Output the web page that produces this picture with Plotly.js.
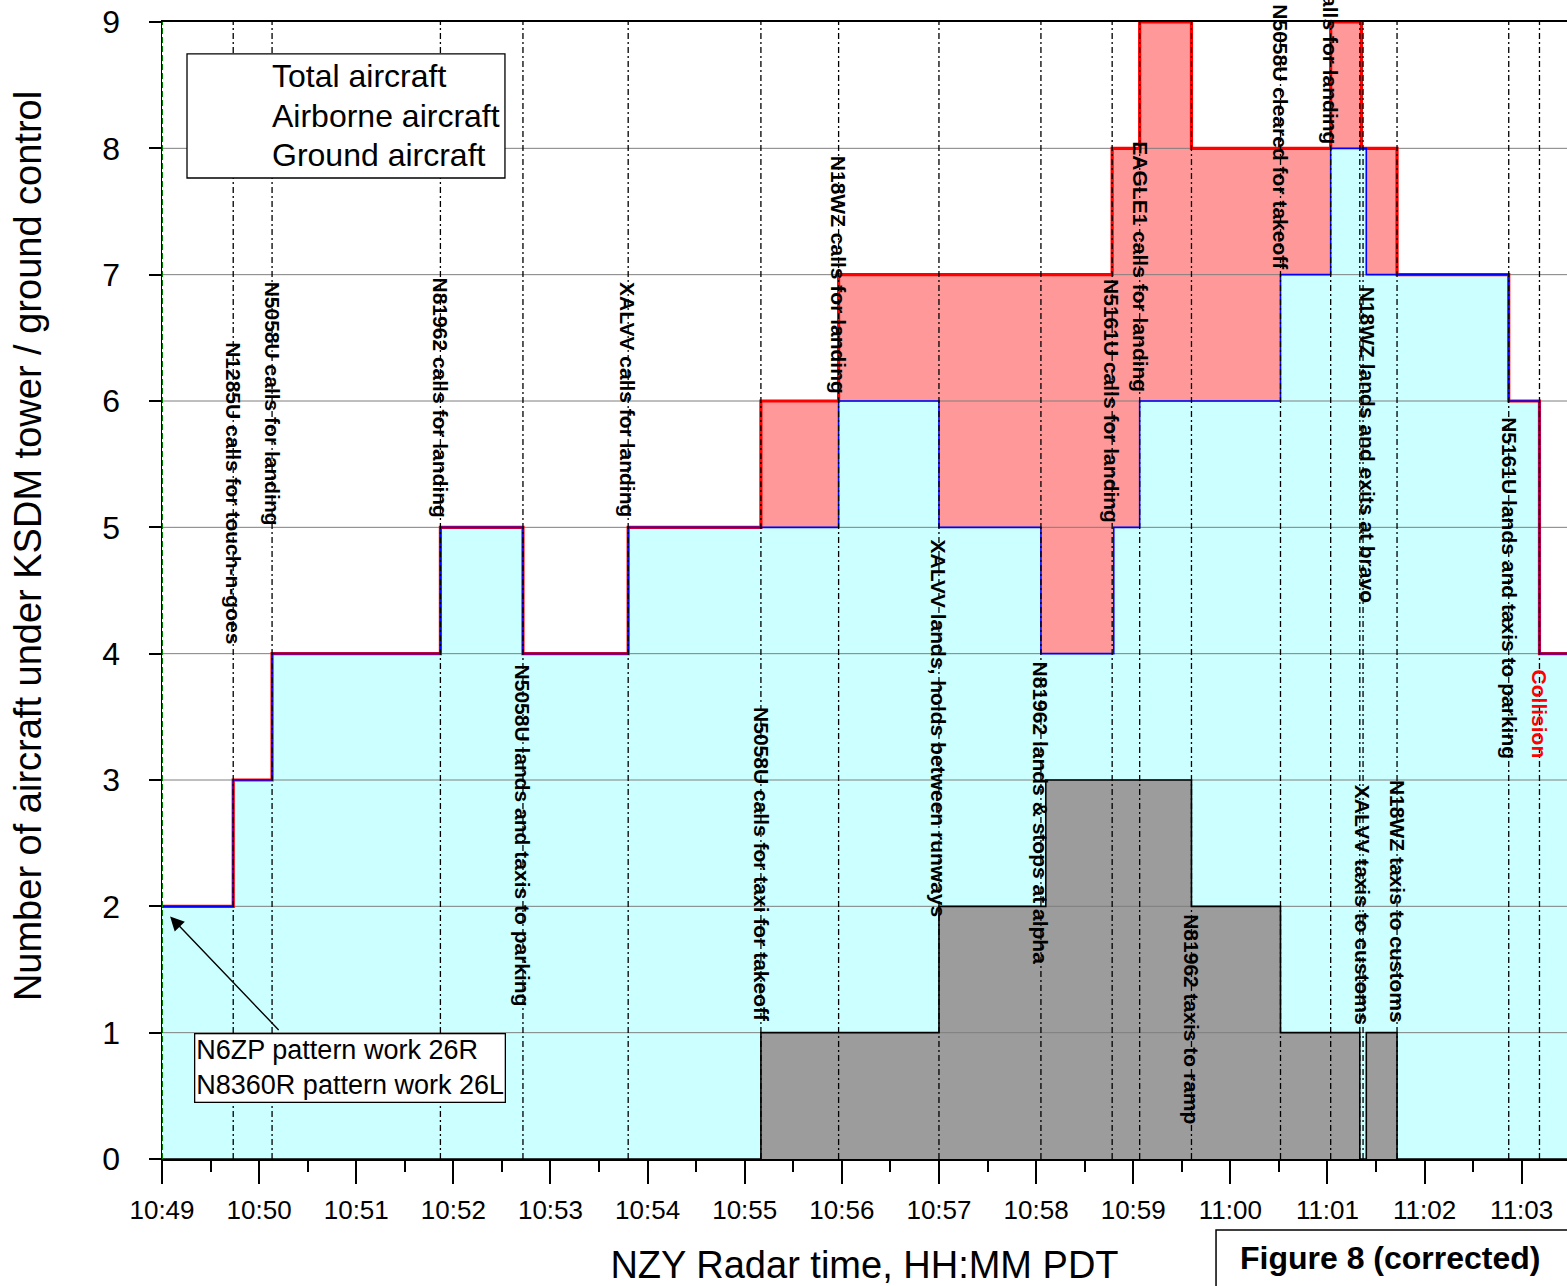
<!DOCTYPE html>
<html><head><meta charset="utf-8">
<script src="https://cdn.plot.ly/plotly-3.0.1.min.js"></script>
<style>html,body{margin:0;padding:0;background:#fff;}#chart{width:1567px;height:1286px;}</style>
</head><body><div id="chart"></div>
<script>
const DAY = '2015-08-16 ';
const seriesNames = ['Total aircraft', 'Airborne aircraft', 'Ground aircraft'];
const totalTimes = ['10:49:00','10:49:44','10:50:08','10:51:52','10:52:43','10:53:48','10:55:10','10:55:58','10:58:47','10:59:04','10:59:36','11:01:02','11:01:21','11:01:43','11:02:52','11:03:11','11:03:28'];
const totalCounts = [2,3,4,5,4,5,6,7,8,9,8,9,8,7,6,4,4];
const airborneTimes = ['10:49:00','10:49:44','10:50:08','10:51:52','10:52:43','10:53:48','10:55:58','10:57:00','10:58:03','10:58:48','10:59:04','11:00:31','11:01:02','11:01:24','11:02:52','11:03:11','11:03:28'];
const airborneCounts = [2,3,4,5,4,5,6,5,4,5,6,7,8,7,6,4,4];
const groundTimes = ['10:49:00','10:55:10','10:57:00','10:58:06','10:59:36','11:00:31','11:01:20','11:01:24','11:01:43','11:03:28'];
const groundCounts = [0,1,2,3,2,1,0,1,0,0];
const eventTimes = ['10:49:44','10:50:08','10:51:52','10:52:43','10:53:48','10:55:10','10:55:58','10:57:00','10:58:03','10:58:47','10:59:04','10:59:36','11:00:31','11:01:02','11:01:20','11:01:22','11:01:43','11:02:52','11:03:11'];
const eventLabels = [
 'N1285U calls for touch-n-goes',
 'N5058U calls for landing',
 'N81962 calls for landing',
 'N5058U lands and taxis to parking',
 'XALVV calls for landing',
 'N5058U calls for taxi for takeoff',
 'N18WZ calls for landing',
 'XALVV lands, holds between runways',
 'N81962 lands & stops at alpha',
 'N5161U calls for landing',
 'EAGLE1 calls for landing',
 'N81962 taxis to ramp',
 'N5058U cleared for takeoff',
 'calls for landing',
 'XALVV taxis to customs',
 'N18WZ lands and exits at bravo',
 'N18WZ taxis to customs',
 'N5161U lands and taxis to parking',
 'Collision'
];
const noteLines = ['N6ZP pattern work 26R', 'N8360R pattern work 26L'];
const figureLabel = 'Figure 8 (corrected)';
const xTitle = 'NZY Radar time, HH:MM PDT';
const yTitle = 'Number of aircraft under KSDM tower / ground control';
const yTicks = [0,1,2,3,4,5,6,7,8,9];

// layout-only placement of the event labels (top of rotated text, in y units)
const labelTop = [6.48,6.96,6.99,3.93,6.96,3.59,7.96,4.92,3.95,6.98,8.07,1.95,9.16,9.32,2.98,6.92,3.02,5.89,3.89];
const labelShift = [0,0,0,0,0,0,0,0,0,0,0,0,0,0,3,4,0,0,0];
const legendRowsY = [0.9525, 0.9173, 0.8830];

const T = s => DAY + s;
const xStart = T('10:49:00'), xEnd = T('11:03:28');
const FONT = 'Liberation Sans, Arial, sans-serif';

const fillTrace = (times, vals, color) => ({
  x: times.map(T), y: vals, type: 'scatter', mode: 'none', fill: 'tozeroy',
  fillcolor: color, line: {shape: 'hv', width: 0}, hoverinfo: 'skip', showlegend: false
});
const lineTrace = (times, vals, name, color, w) => ({
  x: times.map(T), y: vals, type: 'scatter', mode: 'lines', name: name,
  line: {shape: 'hv', color: color, width: w}, showlegend: false
});
// horizontal grid drawn over the filled areas
const gx = [], gy = [];
yTicks.filter(v => v > 0 && v < 9).forEach(v => { gx.push(xStart, xEnd, null); gy.push(v, v, null); });

const data = [
  fillTrace(totalTimes, totalCounts, '#FF9999'),
  fillTrace(airborneTimes, airborneCounts, '#CCFFFF'),
  fillTrace(groundTimes, groundCounts, '#9C9C9C'),
  {x: gx, y: gy, type: 'scatter', mode: 'lines', line: {color: '#7f7f7f', width: 1}, hoverinfo: 'skip', showlegend: false},
  lineTrace(totalTimes, totalCounts, seriesNames[0], '#FF0000', 3.2),
  lineTrace(airborneTimes, airborneCounts, seriesNames[1], '#0000FF', 1.6),
  lineTrace(groundTimes, groundCounts, seriesNames[2], '#000000', 1.6)
];

const shapes = [];
eventTimes.forEach(t => shapes.push({type: 'line', xref: 'x', yref: 'y', x0: T(t), x1: T(t), y0: 0, y1: 9,
  line: {color: '#000', width: 1.3, dash: '6px,3px,2px,3px'}}));
shapes.push({type: 'line', xref: 'x', yref: 'paper', x0: xStart, x1: xStart, y0: 0, y1: 1,
  line: {color: '#008000', width: 2, dash: '6px,3px'}});
// legend box
shapes.push({type: 'rect', xref: 'paper', yref: 'paper', x0: 0.0178, x1: 0.2441, y0: 0.8628, y1: 0.9719,
  fillcolor: '#fff', line: {color: '#000', width: 1.3}});
// figure label box
shapes.push({type: 'rect', xref: 'paper', yref: 'paper', x0: 0.7502, x1: 1.02, y0: -0.2, y1: -0.0624,
  fillcolor: '#fff', line: {color: '#000', width: 1.5}});

const annotations = [];
eventTimes.forEach((t, i) => annotations.push({
  x: T(t), y: labelTop[i] / 9, xref: 'x', yref: 'paper', text: eventLabels[i], showarrow: false,
  textangle: 90, xanchor: 'center', yanchor: 'top', xshift: labelShift[i],
  font: {family: FONT, size: 21, weight: 'bold', color: eventLabels[i] === 'Collision' ? '#FF0000' : '#000'}
}));
seriesNames.forEach((n, i) => annotations.push({xref: 'paper', yref: 'paper', x: 0.0769, y: legendRowsY[i],
  xanchor: 'left', yanchor: 'middle', align: 'left', showarrow: false, text: n,
  font: {family: FONT, size: 32, color: '#000'}}));
annotations.push({xref: 'x', yref: 'y', x: T('10:49:20'), y: 1.0, xanchor: 'left', yanchor: 'top', align: 'left',
  showarrow: false, text: noteLines.join('<br>'), bgcolor: '#fff', bordercolor: '#000', borderwidth: 1.3, borderpad: 1,
  font: {family: FONT, size: 27, color: '#000'}});
annotations.push({xref: 'x', yref: 'y', x: T('10:49:05'), y: 1.92, ax: 110, ay: 115, text: '', showarrow: true,
  arrowhead: 2, arrowsize: 2, arrowwidth: 1.4, arrowcolor: '#000', standoff: 0});
annotations.push({xref: 'paper', yref: 'paper', x: -0.0954, y: 0.539, xanchor: 'center', yanchor: 'middle',
  textangle: -90, showarrow: false, text: yTitle, font: {family: FONT, size: 38, color: '#000'}});
annotations.push({xref: 'paper', yref: 'paper', x: 0.8747, y: -0.0871, xanchor: 'center', yanchor: 'middle',
  showarrow: false, text: figureLabel, font: {family: FONT, size: 32, weight: 'bold', color: '#000'}});

const layout = {
  width: 1567, height: 1286,
  margin: {l: 162, r: 0, t: 22, b: 127, pad: 0},
  paper_bgcolor: '#fff', plot_bgcolor: '#fff',
  showlegend: false,
  xaxis: {
    type: 'date', range: [xStart, xEnd], tick0: xStart, dtick: 60000, tickformat: '%H:%M',
    ticks: 'outside', ticklen: 23, tickwidth: 2, tickcolor: '#000',
    minor: {dtick: 30000, ticks: 'outside', ticklen: 11, tickwidth: 2, tickcolor: '#000', showgrid: false},
    showgrid: false, zeroline: false, showline: true, linecolor: '#000', linewidth: 2, mirror: true,
    tickfont: {family: FONT, size: 26, color: '#000'}, ticklabelstandoff: 4,
    title: {text: xTitle, font: {family: FONT, size: 38, color: '#000'}, standoff: 30},
    automargin: false
  },
  yaxis: {
    range: [0, 9], tickvals: yTicks, ticks: 'outside', ticklen: 12, tickwidth: 2, tickcolor: '#000',
    showgrid: false, zeroline: false, showline: true, linecolor: '#000', linewidth: 1.5, mirror: false,
    tickfont: {family: FONT, size: 32, color: '#000'}, ticklabelstandoff: 22,
    automargin: false
  },
  shapes: shapes,
  annotations: annotations,
  font: {family: FONT}
};
Plotly.newPlot('chart', data, layout, {displayModeBar: false, staticPlot: true});
</script></body></html>
